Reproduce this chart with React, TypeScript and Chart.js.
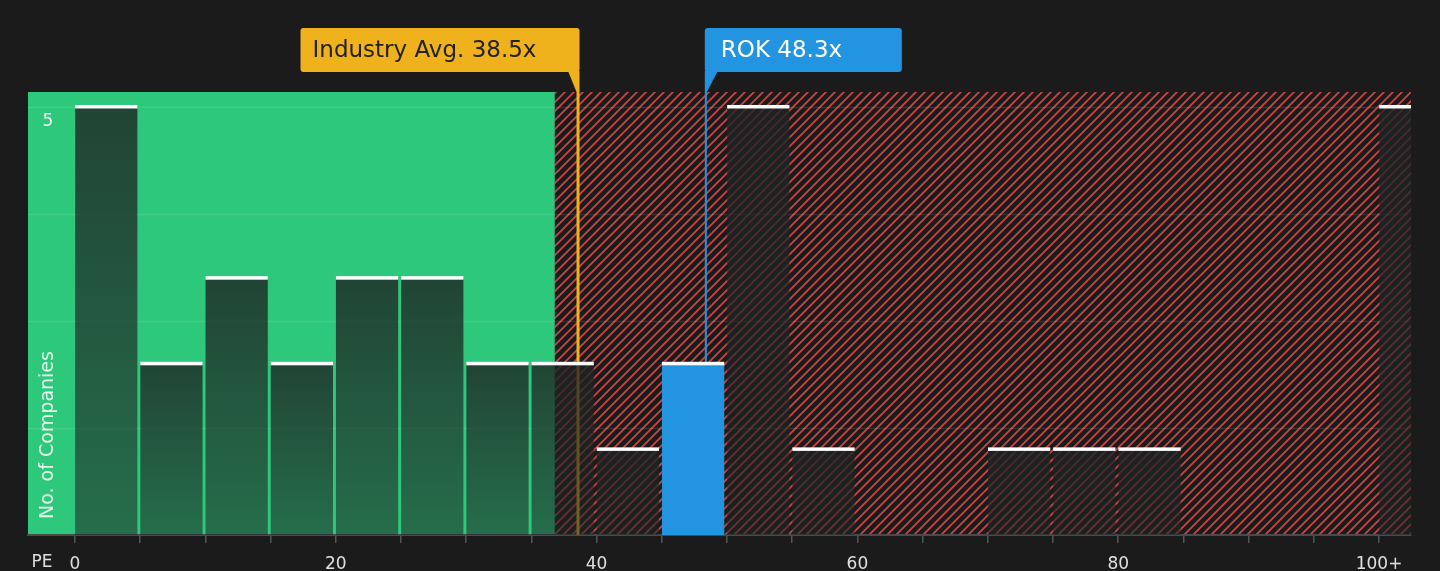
import { useEffect, useRef } from "react";
import { Chart, registerables, Plugin, ChartOptions } from "chart.js";

Chart.register(...registerables);

// PE bins (start of each 5-wide bin, last one is "100+")
const binStarts = [0, 5, 10, 15, 20, 25, 30, 35, 40, 45, 50, 55, 60, 65, 70, 75, 80, 85, 90, 95, 100];
const companyCounts = [5, 2, 3, 2, 3, 3, 2, 2, 1, 2, 5, 1, 0, 0, 1, 1, 1, 0, 0, 0, 5];
const xTickValues = [0, 5, 10, 15, 20, 25, 30, 35, 40, 45, 50, 55, 60, 65, 70, 75, 80, 85, 90, 95, 100];
const xLabelValues = [0, 20, 40, 60, 80, 100];
const yGridValues = [1.25, 2.5, 3.75, 5];
const yLabelValues = [5];

const industryAvg = 38.5;
const companyName = "ROK";
const companyPE = 48.3;
const fairBoundary = 36.8;
const highlightIndex = 9;

const BG = "#1b1b1b";
const GREEN = "#2ec87c";
const RED = "#c84545";
const ORANGE = "#f0b21c";
const BLUE = "#2394e0";
const FONT = "'DejaVu Sans', sans-serif";

function makeHatch(): CanvasPattern | string {
  const p = 9;
  const c = document.createElement("canvas");
  c.width = p;
  c.height = p;
  const g = c.getContext("2d");
  if (!g) return RED;
  g.fillStyle = BG;
  g.fillRect(0, 0, p, p);
  g.strokeStyle = RED;
  g.lineWidth = 1.8;
  g.beginPath();
  g.moveTo(-1, p + 1);
  g.lineTo(p + 1, -1);
  g.moveTo(-p - 1, p + 1);
  g.lineTo(1, -1);
  g.moveTo(-1, 2 * p + 1);
  g.lineTo(p + 1, p - 1);
  g.stroke();
  const pat = g.createPattern(c, "repeat");
  return pat || RED;
}

function roundBox(ctx: CanvasRenderingContext2D, x: number, y: number, w: number, h: number, r: number) {
  ctx.beginPath();
  ctx.moveTo(x + r, y);
  ctx.lineTo(x + w - r, y);
  ctx.quadraticCurveTo(x + w, y, x + w, y + r);
  ctx.lineTo(x + w, y + h - r);
  ctx.quadraticCurveTo(x + w, y + h, x + w - r, y + h);
  ctx.lineTo(x + r, y + h);
  ctx.quadraticCurveTo(x, y + h, x, y + h - r);
  ctx.lineTo(x, y + r);
  ctx.quadraticCurveTo(x, y, x + r, y);
  ctx.closePath();
}

const decorPlugin: Plugin<"bar"> = {
  id: "peDecor",
  beforeDraw: (chart) => {
    const { ctx, chartArea: a, scales } = chart;
    ctx.save();
    ctx.fillStyle = BG;
    ctx.fillRect(0, 0, chart.width, chart.height);
    const split = scales.x.getPixelForValue(fairBoundary);
    ctx.fillStyle = GREEN;
    ctx.fillRect(a.left, a.top, split - a.left, a.bottom - a.top);
    ctx.fillStyle = makeHatch();
    ctx.fillRect(split, a.top, a.right - split, a.bottom - a.top);
    ctx.restore();
  },
  beforeDatasetsDraw: (chart) => {
    const { ctx, chartArea: a, scales } = chart;
    ctx.save();
    ctx.strokeStyle = "rgba(255,255,255,0.1)";
    ctx.lineWidth = 1.5;
    yGridValues.forEach((v) => {
      const y = Math.round(scales.y.getPixelForValue(v)) + 0.5;
      ctx.beginPath();
      ctx.moveTo(a.left, y);
      ctx.lineTo(a.right, y);
      ctx.stroke();
    });
    const ix = scales.x.getPixelForValue(industryAvg) + 1;
    ctx.strokeStyle = ORANGE;
    ctx.lineWidth = 3;
    ctx.beginPath();
    ctx.moveTo(ix, a.top);
    ctx.lineTo(ix, a.bottom);
    ctx.stroke();
    const rx = scales.x.getPixelForValue(companyPE) + 1;
    ctx.strokeStyle = BLUE;
    ctx.lineWidth = 2;
    ctx.beginPath();
    ctx.moveTo(rx, a.top);
    ctx.lineTo(rx, a.bottom);
    ctx.stroke();
    ctx.restore();
  },
  afterDatasetsDraw: (chart) => {
    const { ctx, chartArea: a } = chart;
    const meta = chart.getDatasetMeta(0);
    ctx.save();
    ctx.beginPath();
    ctx.rect(a.left, a.top - 5, a.right - a.left, a.bottom - a.top + 5);
    ctx.clip();
    ctx.fillStyle = "#ffffff";
    meta.data.forEach((el: any, i) => {
      if (companyCounts[i] <= 0) return;
      const { x, y, width } = el.getProps(["x", "y", "width"], true);
      ctx.fillRect(x - width / 2, y - 2, width, 3.5);
    });
    ctx.restore();
  },
  afterDraw: (chart) => {
    const { ctx, chartArea: a, scales } = chart;
    ctx.save();
    const boxTop = 28;
    const boxBottom = 72;

    // industry label
    const ix = scales.x.getPixelForValue(industryAvg) + 1;
    const iw = 279;
    ctx.fillStyle = ORANGE;
    roundBox(ctx, ix + 1.5 - iw, boxTop, iw, boxBottom - boxTop, 3);
    ctx.fill();
    ctx.beginPath();
    ctx.moveTo(ix - 10, boxBottom - 1);
    ctx.lineTo(ix + 1.5, boxBottom - 1);
    ctx.lineTo(ix + 1.5, a.top);
    ctx.lineTo(ix - 1.5, a.top);
    ctx.closePath();
    ctx.fill();
    ctx.font = `23px ${FONT}`;
    ctx.textBaseline = "middle";
    ctx.textAlign = "left";
    ctx.fillStyle = "#222222";
    ctx.fillText(`Industry Avg. ${industryAvg}x`, ix + 1.5 - iw + 12, (boxTop + boxBottom) / 2 + 1);

    // company label
    const rx = scales.x.getPixelForValue(companyPE) + 1;
    const rw = 197;
    ctx.fillStyle = BLUE;
    roundBox(ctx, rx - 1, boxTop, rw, boxBottom - boxTop, 3);
    ctx.fill();
    ctx.beginPath();
    ctx.moveTo(rx - 1, boxBottom - 1);
    ctx.lineTo(rx + 12, boxBottom - 1);
    ctx.lineTo(rx + 1, a.top);
    ctx.lineTo(rx - 1, a.top);
    ctx.closePath();
    ctx.fill();
    ctx.fillStyle = "#ffffff";
    ctx.fillText(`${companyName} ${companyPE}x`, rx + 15, (boxTop + boxBottom) / 2 + 1);

    // y tick label + title inside plot
    ctx.font = `17px ${FONT}`;
    ctx.textAlign = "center";
    ctx.fillStyle = "#f2f2f2";
    yLabelValues.forEach((v) => {
      ctx.fillText(String(v), 48, scales.y.getPixelForValue(v) + 15);
    });
    ctx.save();
    ctx.translate(48, a.bottom - 16);
    ctx.rotate(-Math.PI / 2);
    ctx.textAlign = "left";
    ctx.font = `19px ${FONT}`;
    ctx.fillStyle = "rgba(255,255,255,0.85)";
    ctx.fillText("No. of Companies", 0, 0);
    ctx.restore();

    // axis name
    ctx.font = `17px ${FONT}`;
    ctx.fillStyle = "#e0e0e0";
    ctx.fillText("PE", 42, 563);
    ctx.restore();
  },
};

export default function App() {
  const chartRef = useRef<HTMLCanvasElement | null>(null);
  const chartInstance = useRef<Chart<"bar"> | null>(null);

  useEffect(() => {
    document.body.style.margin = "0";
    document.body.style.background = BG;
    if (!chartRef.current) return;
    if (chartInstance.current) chartInstance.current.destroy();
    const ctx = chartRef.current.getContext("2d");
    if (!ctx) return;

    chartInstance.current = new Chart(ctx, {
      type: "bar",
      data: {
        datasets: [
          {
            data: binStarts.map((s, i) => ({ x: s + 2.4, y: companyCounts[i] })),
            backgroundColor: (c: any) => {
              if (c.type !== "data") return "rgba(30,35,35,0.7)";
              if (c.dataIndex === highlightIndex) return BLUE;
              const yScale = c.chart.scales?.y;
              if (!yScale) return "rgba(30,35,35,0.7)";
              const top = yScale.getPixelForValue(companyCounts[c.dataIndex]);
              const bottom = yScale.getPixelForValue(0);
              if (!isFinite(top) || !isFinite(bottom) || bottom - top < 1) return "rgba(30,35,35,0.7)";
              const g = c.chart.ctx.createLinearGradient(0, top, 0, bottom);
              g.addColorStop(0, "rgba(30,35,35,0.8)");
              g.addColorStop(1, "rgba(30,35,35,0.55)");
              return g;
            },
            borderWidth: 0,
            barPercentage: 0.955,
            categoryPercentage: 1,
            clip: 0,
          } as any,
        ],
      },
      options: {
        responsive: false,
        animation: false,
        layout: { padding: { top: 92, left: 28, right: 29, bottom: 0 } },
        plugins: {
          legend: { display: false },
          tooltip: { enabled: false },
        },
        scales: {
          x: {
            type: "linear",
            min: -3.6,
            max: 102.45,
            offset: false,
            afterBuildTicks: (scale: any) => {
              scale.ticks = xTickValues.map((v) => ({ value: v }));
            },
            afterFit: (scale: any) => {
              scale.height = 36;
            },
            ticks: {
              autoSkip: false,
              maxRotation: 0,
              padding: 11,
              color: "#e0e0e0",
              font: { family: FONT, size: 17 },
              callback: (v: any) => {
                const n = Number(v);
                if (!xLabelValues.includes(n)) return "";
                return n === 100 ? "100+" : String(n);
              },
            },
            grid: {
              offset: false,
              drawOnChartArea: false,
              drawTicks: true,
              tickLength: 8,
              color: "#555555",
              lineWidth: 1.5,
            },
            border: { display: true, color: "#4a4a4a", width: 2 },
          },
          y: {
            display: false,
            min: 0,
            max: 5.175,
          },
        },
      } as ChartOptions<"bar">,
      plugins: [decorPlugin],
    });

    return () => {
      chartInstance.current?.destroy();
      chartInstance.current = null;
    };
  }, []);

  return (
    <div style={{ width: 1440, height: 571, background: BG }}>
      <canvas ref={chartRef} width={1440} height={571} style={{ display: "block" }} />
    </div>
  );
}
